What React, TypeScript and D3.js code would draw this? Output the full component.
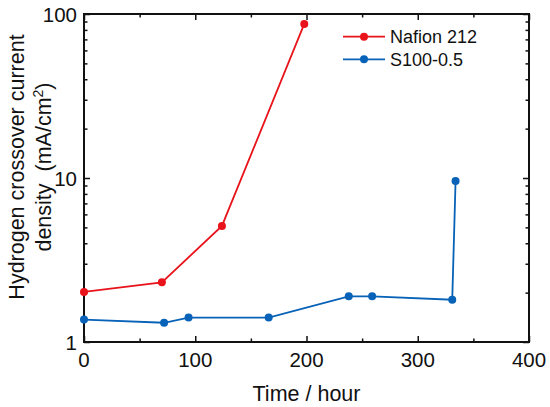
import React, { useEffect, useRef } from 'react';
import * as d3 from 'd3';

// Nafion 212
const nafionHours = [0, 70, 124, 198];
const nafionValues = [2.02, 2.31, 5.1, 87];

// S100-0.5
const s100Hours = [0, 72, 94, 166, 238, 259, 331, 334];
const s100Values = [1.37, 1.31, 1.41, 1.41, 1.9, 1.9, 1.81, 9.6];

const xTicks = [0, 100, 200, 300, 400];
const yTicks = [1, 10, 100];

const seriesNames = ['Nafion 212', 'S100-0.5'];
const seriesColors = ['#e8131b', '#0762b8'];

const App = () => {
  const ref = useRef<SVGSVGElement>(null);

  useEffect(() => {
    if (!ref.current) return;
    const width = 550;
    const height = 407;
    const m = { left: 84, right: 21, top: 14, bottom: 65 };
    const font = '"Liberation Sans", Arial, sans-serif';

    const svg = d3.select(ref.current);
    svg.selectAll('*').remove();
    svg.attr('width', width).attr('height', height);

    const x = d3.scaleLinear().domain([0, 400]).range([m.left, width - m.right]);
    const y = d3.scaleLog().domain([1, 100]).range([height - m.bottom, m.top]);

    const minorY: number[] = [];
    for (const d of [1, 10]) for (let k = 2; k <= 9; k++) minorY.push(d * k);
    const minorX = [50, 150, 250, 350];

    const g = svg.append('g');

    // inward ticks on all four sides
    const bottomAxis = d3.axisBottom(x).tickValues(xTicks).tickSize(-6).tickFormat(() => '');
    const topAxis = d3.axisTop(x).tickValues(xTicks).tickSize(-6).tickFormat(() => '');
    const leftAxis = d3.axisLeft(y).tickValues(yTicks).tickSize(-6).tickFormat(() => '');
    const rightAxis = d3.axisRight(y).tickValues(yTicks).tickSize(-6).tickFormat(() => '');

    const y0 = height - m.bottom;
    const x1 = width - m.right;

    const addAxis = (axis: any, tr: string, minor: any) => {
      const a = g.append('g').attr('transform', tr).call(axis);
      a.select('.domain').remove();
      a.selectAll('line').attr('stroke', '#111').attr('stroke-width', 1.5);
      g.append('g').attr('transform', tr).call(minor).call((s: any) => {
        s.select('.domain').remove();
        s.selectAll('line').attr('stroke', '#111').attr('stroke-width', 1.5);
        s.selectAll('text').remove();
      });
    };

    addAxis(bottomAxis, `translate(0,${y0})`, d3.axisBottom(x).tickValues(minorX).tickSize(-3.5));
    addAxis(topAxis, `translate(0,${m.top})`, d3.axisTop(x).tickValues(minorX).tickSize(-3.5));
    addAxis(leftAxis, `translate(${m.left},0)`, d3.axisLeft(y).tickValues(minorY).tickSize(-3.5));
    addAxis(rightAxis, `translate(${x1},0)`, d3.axisRight(y).tickValues(minorY).tickSize(-3.5));

    // frame
    g.append('rect')
      .attr('x', m.left)
      .attr('y', m.top)
      .attr('width', x1 - m.left)
      .attr('height', y0 - m.top)
      .attr('fill', 'none')
      .attr('stroke', '#111')
      .attr('stroke-width', 2);

    // tick labels
    g.selectAll('.xl')
      .data(xTicks)
      .enter()
      .append('text')
      .attr('x', (d) => x(d))
      .attr('y', y0 + 25)
      .attr('text-anchor', 'middle')
      .attr('font-family', font)
      .attr('font-size', 20.5)
      .attr('fill', '#111')
      .text((d) => d);

    g.selectAll('.yl')
      .data(yTicks)
      .enter()
      .append('text')
      .attr('x', m.left - 7)
      .attr('y', (d) => y(d) + 7.5)
      .attr('text-anchor', 'end')
      .attr('font-family', font)
      .attr('font-size', 20.5)
      .attr('fill', '#111')
      .text((d) => d);

    // axis titles
    g.append('text')
      .attr('x', (m.left + x1) / 2)
      .attr('y', 401)
      .attr('text-anchor', 'middle')
      .attr('font-family', font)
      .attr('font-size', 21.5)
      .attr('fill', '#111')
      .text('Time / hour');

    const yt = g.append('text')
      .attr('transform', 'translate(24,167) rotate(-90)')
      .attr('text-anchor', 'middle')
      .attr('font-family', font)
      .attr('font-size', 21.5)
      .attr('fill', '#111');
    yt.append('tspan').attr('x', 0).attr('y', 0).text('Hydrogen crossover current');
    const l2 = yt.append('tspan').attr('x', 0).attr('y', 27);
    l2.append('tspan').text('density\u00a0 (mA/cm');
    l2.append('tspan').attr('dy', -8).attr('font-size', 14).text('2');
    l2.append('tspan').attr('dy', 8).text(')');

    // series
    const series = [
      { hours: nafionHours, values: nafionValues },
      { hours: s100Hours, values: s100Values },
    ];
    const line = d3.line<[number, number]>().x((d) => x(d[0])).y((d) => y(d[1]));

    series.forEach((s, i) => {
      const pts = s.hours.map((h, j) => [h, s.values[j]] as [number, number]);
      g.append('path')
        .datum(pts)
        .attr('d', line)
        .attr('fill', 'none')
        .attr('stroke', seriesColors[i])
        .attr('stroke-width', 1.8);
      g.append('g')
        .selectAll('circle')
        .data(pts)
        .enter()
        .append('circle')
        .attr('cx', (d) => x(d[0]))
        .attr('cy', (d) => y(d[1]))
        .attr('r', 4)
        .attr('fill', seriesColors[i]);
    });

    // legend
    const legend = g.selectAll('.legend')
      .data(seriesNames)
      .enter()
      .append('g')
      .attr('transform', (d, i) => `translate(343,${36.7 + i * 22.6})`);
    legend.append('line')
      .attr('x1', 0)
      .attr('x2', 42)
      .attr('stroke', (d, i) => seriesColors[i])
      .attr('stroke-width', 1.8);
    legend.append('circle')
      .attr('cx', 21)
      .attr('r', 4)
      .attr('fill', (d, i) => seriesColors[i]);
    legend.append('text')
      .attr('x', 47)
      .attr('y', 6.5)
      .attr('font-family', font)
      .attr('font-size', 18)
      .attr('fill', '#111')
      .text((d) => d);
  }, []);

  return <svg ref={ref} style={{ position: 'absolute', left: 0, top: 0 }} />;
};

export default App;
